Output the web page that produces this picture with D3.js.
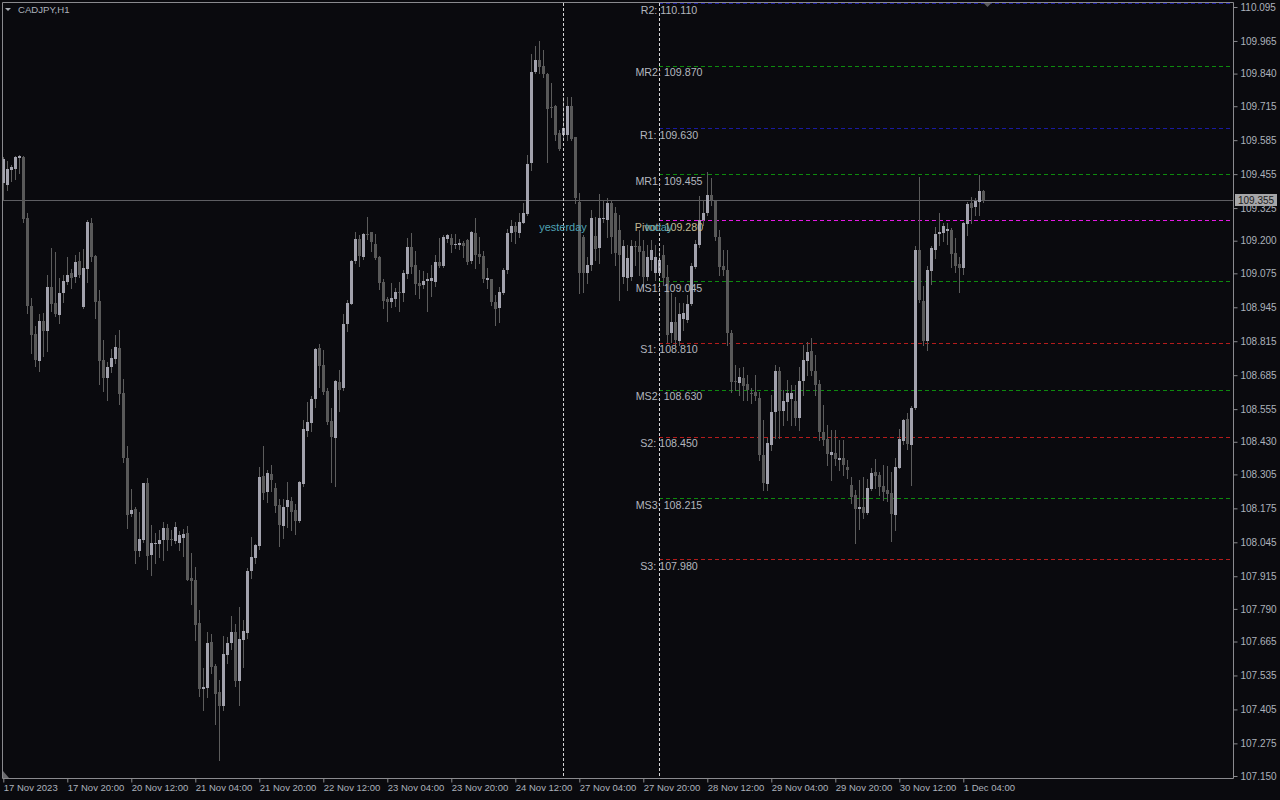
<!DOCTYPE html>
<html><head><meta charset="utf-8">
<script src="https://cdn.jsdelivr.net/npm/d3@7/dist/d3.min.js"></script>
<style>
html,body{margin:0;padding:0;background:#0a0a0e;}
svg{display:block;}
text{font-family:"Liberation Sans",Arial,sans-serif;}
</style></head><body>
<svg id="c" width="1280" height="800"></svg>
<script>
// ---------------- DATA ----------------
const symbolTitle = "CADJPY,H1";

const open = [
109.421,109.413,109.471,109.475,109.517,109.521,109.287,108.950,108.843,108.739,
108.893,108.854,109.023,108.962,108.916,109.000,109.042,109.076,109.061,109.122,
108.946,109.092,109.268,109.142,108.969,108.743,108.674,108.716,108.747,108.789,
108.617,108.368,108.153,108.173,108.012,108.054,108.272,107.996,108.039,108.039,
108.054,108.100,108.058,108.050,108.042,108.062,108.081,107.908,107.901,107.736,
107.483,107.487,107.663,107.571,107.472,107.418,107.613,107.659,107.701,107.514,
107.671,107.698,107.935,107.985,108.031,108.299,108.238,108.307,108.253,108.188,
108.107,108.180,108.203,108.169,108.127,108.268,108.471,108.502,108.594,108.789,
108.724,108.625,108.510,108.445,108.659,108.636,108.881,108.958,109.122,109.207,
109.138,109.226,109.233,109.187,109.138,109.042,108.977,108.965,108.977,109.004,
109.000,109.073,109.176,109.107,109.038,109.030,109.046,109.046,109.042,109.119,
109.103,109.207,109.211,109.184,109.184,109.191,109.203,109.122,109.230,109.149,
109.142,109.050,109.053,108.965,108.942,109.000,109.088,109.230,109.256,109.230,
109.268,109.302,109.498,109.846,109.892,109.869,109.839,109.712,109.716,109.613,
109.605,109.605,109.716,109.597,109.348,109.214,109.076,109.107,109.218,109.172,
109.283,109.279,109.345,109.306,109.241,109.061,109.057,109.061,109.180,109.180,
109.161,109.061,109.126,109.076,109.076,109.145,109.061,108.847,108.889,108.816,
108.900,108.896,108.958,109.099,109.184,109.279,109.306,109.375,109.352,109.214,
109.103,109.088,108.847,108.661,108.655,108.674,108.651,108.617,108.621,108.598,
108.379,108.268,108.418,108.544,108.701,108.548,108.582,108.594,108.586,108.521,
108.663,108.739,108.778,108.701,108.651,108.467,108.441,108.379,108.387,108.360,
108.368,108.333,108.264,108.226,108.173,108.180,108.157,108.249,108.314,108.303,
108.261,108.245,108.234,108.150,108.330,108.433,108.517,108.418,108.559,109.165,
108.969,108.816,109.084,109.165,109.226,109.230,109.237,109.241,109.153,109.111,
109.096,109.264,109.345,109.329,109.348,109.390
];
const high = [
109.521,109.505,109.490,109.525,109.528,109.523,109.306,108.981,108.873,108.919,
108.923,109.069,109.172,109.157,109.057,109.069,109.138,109.092,109.145,109.157,
109.168,109.279,109.287,109.144,109.011,108.820,108.736,108.785,108.839,108.858,
108.670,108.414,108.249,108.180,108.161,108.274,108.291,108.111,108.081,108.092,
108.123,108.115,108.092,108.123,108.088,108.096,108.107,108.004,107.950,107.786,
107.564,107.701,107.694,107.579,107.518,107.686,107.682,107.763,107.732,107.797,
107.747,107.947,108.065,108.039,108.333,108.414,108.322,108.341,108.272,108.211,
108.211,108.276,108.219,108.192,108.280,108.513,108.582,108.605,108.789,108.805,
108.782,108.636,108.559,108.665,108.705,108.919,108.973,109.126,109.233,109.222,
109.230,109.291,109.235,109.226,109.140,109.053,108.985,109.038,109.019,109.042,
109.088,109.211,109.230,109.161,109.088,109.084,109.076,109.107,109.145,109.211,
109.222,109.226,109.226,109.226,109.207,109.199,109.205,109.237,109.287,109.214,
109.161,109.096,109.055,108.992,109.023,109.096,109.245,109.279,109.272,109.306,
109.345,109.528,109.915,109.946,109.965,109.931,109.842,109.804,109.718,109.624,
109.751,109.751,109.751,109.599,109.383,109.222,109.138,109.318,109.291,109.379,
109.356,109.364,109.356,109.329,109.299,109.203,109.184,109.203,109.199,109.241,
109.203,109.184,109.203,109.184,109.165,109.184,109.107,109.000,108.985,108.962,
108.962,108.992,109.115,109.203,109.371,109.356,109.463,109.440,109.356,109.241,
109.165,109.165,108.858,108.724,108.713,108.716,108.686,108.636,108.686,108.621,
108.513,108.445,108.609,108.724,108.716,108.628,108.667,108.647,108.647,108.716,
108.801,108.812,108.828,108.762,108.667,108.571,108.494,108.475,108.475,108.437,
108.437,108.360,108.295,108.245,108.284,108.295,108.287,108.330,108.364,108.314,
108.341,108.337,108.314,108.368,108.479,108.517,108.540,108.567,109.180,109.444,
109.027,109.103,109.180,109.253,109.306,109.268,109.268,109.249,109.211,109.138,
109.270,109.348,109.368,109.364,109.452,109.394
];
const low = [
109.356,109.394,109.429,109.436,109.459,109.272,108.923,108.770,108.720,108.701,
108.759,108.778,108.931,108.912,108.885,108.965,109.034,109.019,109.042,109.061,
108.944,109.042,109.122,108.904,108.651,108.625,108.590,108.697,108.732,108.575,
108.353,108.100,108.146,107.966,107.993,108.046,107.943,107.920,107.966,107.989,
107.977,108.016,108.035,108.042,108.016,107.993,107.899,107.809,107.671,107.456,
107.403,107.452,107.544,107.349,107.211,107.403,107.583,107.636,107.495,107.422,
107.567,107.678,107.908,107.966,108.019,108.211,108.199,108.242,108.161,108.031,
108.062,108.104,108.092,108.077,108.123,108.261,108.452,108.471,108.563,108.640,
108.613,108.498,108.276,108.261,108.548,108.628,108.854,108.956,109.115,109.103,
109.130,109.207,109.161,109.130,109.015,108.942,108.893,108.946,108.950,108.931,
108.969,109.057,109.076,108.996,108.981,109.019,108.931,108.988,109.027,109.099,
109.099,109.195,109.157,109.172,109.168,109.138,109.111,109.115,109.096,109.115,
109.042,109.019,108.954,108.877,108.889,108.996,109.076,109.199,109.191,109.214,
109.266,109.299,109.471,109.842,109.842,109.827,109.502,109.674,109.586,109.548,
109.597,109.586,109.586,109.345,109.000,109.004,109.038,109.088,109.126,109.115,
109.272,109.214,109.153,109.107,108.973,109.038,109.011,109.050,109.107,109.069,
109.011,109.050,109.088,109.050,109.069,109.030,108.812,108.812,108.801,108.801,
108.858,108.889,108.954,109.096,109.176,109.260,109.299,109.337,109.203,109.069,
109.069,108.801,108.621,108.628,108.609,108.590,108.590,108.579,108.590,108.360,
108.245,108.245,108.399,108.445,108.445,108.494,108.513,108.494,108.494,108.475,
108.609,108.686,108.686,108.609,108.437,108.418,108.341,108.284,108.341,108.322,
108.303,108.291,108.196,108.042,108.096,108.138,108.153,108.245,108.253,108.226,
108.207,108.203,108.050,108.092,108.328,108.422,108.402,108.264,108.556,108.965,
108.801,108.782,109.034,109.134,109.184,109.199,109.187,109.099,109.080,109.004,
109.073,109.222,109.268,109.299,109.299,109.348
];
const close = [
109.513,109.475,109.482,109.521,109.525,109.283,108.950,108.839,108.743,108.893,
108.854,109.023,108.958,108.919,109.000,109.046,109.069,109.057,109.119,109.069,
109.096,109.272,109.138,108.965,108.739,108.674,108.716,108.751,108.793,108.613,
108.368,108.150,108.169,108.012,108.058,108.272,107.993,108.042,108.042,108.054,
108.100,108.054,108.057,108.104,108.073,108.077,107.901,107.897,107.728,107.483,
107.491,107.659,107.567,107.464,107.418,107.617,107.659,107.701,107.514,107.675,
107.705,107.935,107.989,108.035,108.295,108.234,108.310,108.284,108.184,108.111,
108.180,108.207,108.161,108.127,108.276,108.479,108.506,108.594,108.785,108.720,
108.621,108.506,108.448,108.663,108.628,108.881,108.962,109.122,109.207,109.142,
109.226,109.222,109.195,109.134,109.038,108.969,108.965,108.981,109.004,109.003,
109.076,109.176,109.099,109.034,109.027,109.046,109.053,109.057,109.119,109.103,
109.214,109.222,109.184,109.187,109.191,109.180,109.119,109.233,109.145,109.138,
109.053,109.057,108.965,108.939,109.004,109.088,109.230,109.256,109.233,109.272,
109.306,109.494,109.846,109.892,109.865,109.839,109.705,109.708,109.605,109.551,
109.632,109.716,109.590,109.364,109.076,109.076,109.107,109.287,109.168,109.287,
109.287,109.345,109.214,109.153,109.145,109.180,109.134,109.180,109.176,109.157,
109.061,109.138,109.165,109.138,109.126,109.057,108.839,108.889,108.820,108.919,
108.923,108.958,109.103,109.187,109.279,109.306,109.375,109.356,109.214,109.099,
109.088,108.847,108.659,108.659,108.678,108.644,108.628,108.616,108.605,108.379,
108.272,108.425,108.544,108.701,108.548,108.586,108.617,108.617,108.521,108.663,
108.743,108.774,108.701,108.647,108.467,108.437,108.383,108.391,108.364,108.368,
108.341,108.322,108.219,108.173,108.180,108.157,108.253,108.310,108.299,108.257,
108.238,108.230,108.153,108.333,108.441,108.513,108.422,108.559,109.165,108.973,
108.816,109.088,109.172,109.226,109.233,109.256,109.245,109.149,109.103,109.096,
109.268,109.341,109.325,109.352,109.390,109.355
];

// time axis: bar index of each label and its text
const timeTickBars = [0,16,32,48,64,80,96,112,128,144,160,176,192,208,224,240];
const timeTickLabels = ["17 Nov 2023","17 Nov 20:00","20 Nov 12:00","21 Nov 04:00","21 Nov 20:00",
  "22 Nov 12:00","23 Nov 04:00","23 Nov 20:00","24 Nov 12:00","27 Nov 04:00","27 Nov 20:00",
  "28 Nov 12:00","29 Nov 04:00","29 Nov 20:00","30 Nov 12:00","1 Dec 04:00"];

// price axis
const priceTicks = [110.095,109.965,109.840,109.715,109.585,109.455,109.325,109.200,109.075,108.945,
  108.815,108.685,108.555,108.430,108.305,108.175,108.045,107.915,107.790,107.665,107.535,107.405,107.275,107.150];
const priceTickLabels = ["110.095","109.965","109.840","109.715","109.585","109.455","109.325","109.200",
  "109.075","108.945","108.815","108.685","108.555","108.430","108.305","108.175","108.045","107.915",
  "107.790","107.665","107.535","107.405","107.275","107.150"];

// pivot levels
const levelNames  = ["R2","MR2","R1","MR1","Pivot","MS1","S1","MS2","S2","MS3","S3"];
const levelValues = [110.110,109.870,109.630,109.455,109.280,109.045,108.810,108.630,108.450,108.215,107.980];

// session separators
const sessionNames = ["yesterday","today"];
const sessionBars  = [140,164];

const bidPrice = 109.355;
const bidLabel = "109.355";

// ---------------- STYLE / LAYOUT ----------------
const BG = "#0a0a0e";
const FRAME = "#8a8a8e";
const AXIS_TEXT = "#acb2bc";
const BULL = "#a2a2ad", BEAR = "#595959", WICK = "#5c5c5c";
const chartL = 2.5, chartR = 1233.5, chartT = 2.5, chartB = 778.5;

function levelColor(n){
  if (n === "Pivot") return "#e619e6";
  if (n.startsWith("M")) return "#0e8a0e";
  if (n.startsWith("R")) return "#1a1aa0";
  return "#b41c1c";
}

const svg = d3.select("#c");
svg.append("rect").attr("width",1280).attr("height",800).attr("fill",BG);

const N = Math.min(open.length, high.length, low.length, close.length);
const x = d3.scaleLinear().domain([0, 307.5]).range([3.3, 1233.3]);
const y = d3.scaleLinear().domain([107.150, 110.095]).range([776, 7]);

svg.append("defs").append("clipPath").attr("id","plot")
  .append("rect").attr("x",3).attr("y",3).attr("width",1230).attr("height",775);

const plot = svg.append("g").attr("clip-path","url(#plot)");

// bid line
plot.append("line")
  .attr("x1",3).attr("x2",1233)
  .attr("y1",Math.round(y(bidPrice))+0.5).attr("y2",Math.round(y(bidPrice))+0.5)
  .attr("stroke","#5e5e62").attr("stroke-width",1);

// pivot level lines
const lx0 = Math.round(x(sessionBars[1]));
plot.selectAll("line.lvl").data(levelNames).enter().append("line")
  .attr("class","lvl")
  .attr("x1",lx0).attr("x2",1233)
  .attr("y1",(d,i)=>Math.round(y(levelValues[i]))+0.5)
  .attr("y2",(d,i)=>Math.round(y(levelValues[i]))+0.5)
  .attr("stroke",d=>levelColor(d)).attr("stroke-width",1)
  .attr("stroke-dasharray","4,3");

// candles
const idx = d3.range(N);
const cg = plot.append("g").attr("shape-rendering","crispEdges");
cg.selectAll("rect.w").data(idx).enter().append("rect")
  .attr("class","w")
  .attr("x",i=>Math.round(x(i)))
  .attr("width",1)
  .attr("y",i=>Math.round(y(high[i])))
  .attr("height",i=>Math.max(1,Math.round(y(low[i]))-Math.round(y(high[i]))+1))
  .attr("fill",WICK);
cg.selectAll("rect.b").data(idx).enter().append("rect")
  .attr("class","b")
  .attr("x",i=>Math.round(x(i))-1)
  .attr("width",3)
  .attr("y",i=>Math.round(y(Math.max(open[i],close[i]))))
  .attr("height",i=>Math.max(1,Math.round(y(Math.min(open[i],close[i])))-Math.round(y(Math.max(open[i],close[i])))))
  .attr("fill",i=>close[i]>=open[i]?BULL:BEAR);

// session separators (vertical dashed)
plot.selectAll("line.sep").data(sessionBars).enter().append("line")
  .attr("class","sep")
  .attr("x1",d=>Math.round(x(d))+0.5).attr("x2",d=>Math.round(x(d))+0.5)
  .attr("y1",3).attr("y2",778)
  .attr("stroke","#d4d4d4").attr("stroke-width",1).attr("stroke-dasharray","3,2");

// frame
svg.append("path")
  .attr("d",`M${chartL},${chartB}V${chartT}H${chartR}V${chartB}H${chartL}`)
  .attr("fill","none").attr("stroke",FRAME).attr("stroke-width",1);

// price axis
const yAxis = d3.axisRight(y).tickValues(priceTicks)
  .tickFormat((d,i)=>priceTickLabels[i]).tickSize(4).tickSizeOuter(0).tickPadding(3);
const ya = svg.append("g").attr("transform",`translate(${chartR},0)`).call(yAxis);
ya.select(".domain").remove();
ya.selectAll("line").attr("stroke",FRAME);
ya.selectAll("text").attr("fill",AXIS_TEXT).style("font-size","10px")
  .style("font-family","'Liberation Sans',Arial,sans-serif");

// bid label box
const by = Math.round(y(bidPrice));
svg.append("rect").attr("x",1235).attr("y",by-6).attr("width",42).attr("height",12).attr("fill","#a6a6a8");
svg.append("text").attr("x",1256).attr("y",by).attr("dy","0.35em")
  .attr("text-anchor","middle").attr("fill","#1c1c20").style("font-size","10px").text(bidLabel);

// time axis
const xAxis = d3.axisBottom(x).tickValues(timeTickBars)
  .tickFormat((d,i)=>timeTickLabels[i]).tickSize(4).tickSizeOuter(0).tickPadding(2);
const xa = svg.append("g").attr("transform",`translate(0,${chartB})`).call(xAxis);
xa.select(".domain").remove();
xa.selectAll("line").attr("stroke",FRAME);
xa.selectAll("text").attr("fill",AXIS_TEXT).style("font-size","9.5px")
  .style("font-family","'Liberation Sans',Arial,sans-serif")
  .attr("text-anchor","start").attr("x",0);

// level labels
svg.selectAll("text.lvl").data(levelNames).enter().append("text")
  .attr("class","lvl")
  .attr("x",669).attr("y",(d,i)=>y(levelValues[i])+7).attr("dy","0.35em")
  .attr("text-anchor","middle")
  .attr("fill",d=>d==="Pivot"?"#c2ba94":"#b2b6be")
  .style("font-size","10.7px")
  .text((d,i)=>`${d}: ${levelValues[i].toFixed(3)}`);

// session labels
svg.selectAll("text.sess").data(sessionNames).enter().append("text")
  .attr("class","sess")
  .attr("x",(d,i)=>Math.round(x(sessionBars[i])))
  .attr("y",y(levelValues[4])+7).attr("dy","0.35em")
  .attr("text-anchor","middle").attr("fill","#4fa2b4")
  .style("font-size","11px").text(d=>d);

// title
svg.append("path").attr("d","M5,8L11,8L8,11Z").attr("fill","#a8acb4");
svg.append("text").attr("x",18).attr("y",10).attr("dy","0.35em")
  .attr("fill",AXIS_TEXT).style("font-size","9.6px").text(symbolTitle);

// shift marker & scroll marker
const sx = Math.round(x(N))+0.5;
svg.append("path").attr("d",`M${sx-4},3L${sx+4},3L${sx},7Z`).attr("fill","#5a5a5e");
svg.append("path").attr("d","M3,771L3,778L9,778Z").attr("fill","#6a6a6e");
</script>
</body></html>
